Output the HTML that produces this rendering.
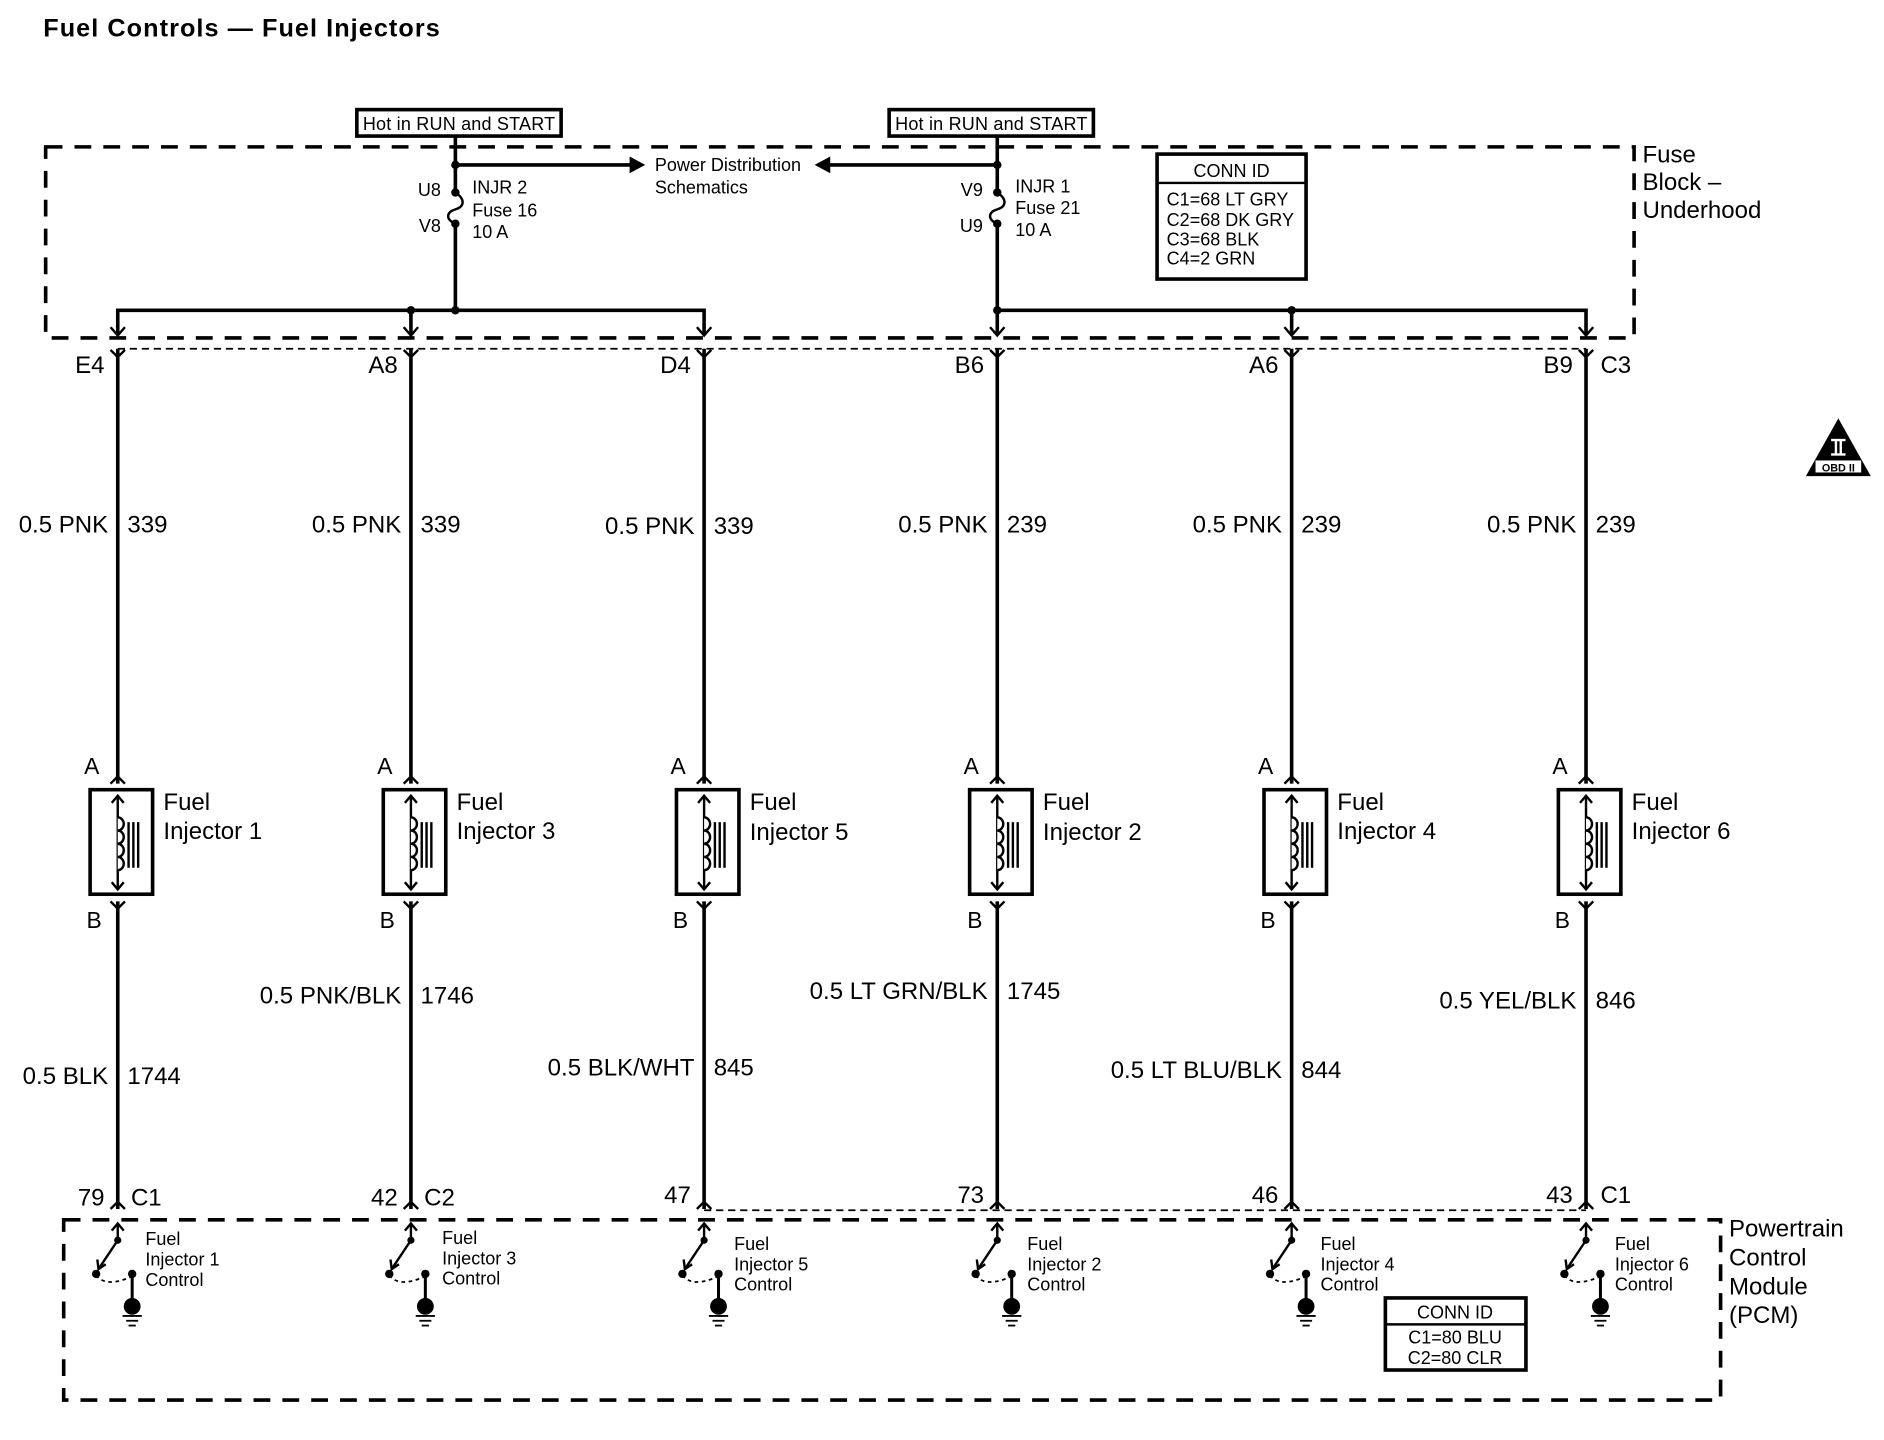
<!DOCTYPE html>
<html><head><meta charset="utf-8"><style>
html,body{margin:0;padding:0;background:#fff;}
svg{display:block;}
text{font-family:"Liberation Sans",sans-serif;fill:#000;}
.w{font-size:20px;}
.s{font-size:15px;}
.p{font-size:19px;}
</style></head><body>
<svg width="1884" height="1440" viewBox="0 0 1568 1198" xmlns="http://www.w3.org/2000/svg">
<defs>
<g id="inj" fill="none" stroke="#000">
  <rect x="-23" y="657" width="52" height="87" stroke-width="3"/>
  <line x1="0" y1="662" x2="0" y2="740" stroke-width="2"/>
  <path d="M-5 668 L0 662 L5 668 M-5 734 L0 740 L5 734" stroke-width="2"/>
  <path d="M0 680 a5 5.5 0 0 1 0 11 a5 5.5 0 0 1 0 11 a5 5.5 0 0 1 0 11 a5 5.5 0 0 1 0 11" stroke-width="2" fill="#fff"/>
  <line x1="9" y1="684" x2="9" y2="722" stroke-width="2"/>
  <line x1="13" y1="684" x2="13" y2="722" stroke-width="2"/>
  <line x1="17" y1="684" x2="17" y2="722" stroke-width="2"/>
  <line x1="0" y1="290" x2="0" y2="652" stroke-width="3"/>
  <path d="M-6 652 L0 646 L6 652" stroke-width="2"/>
  <path d="M-6 750 L0 756 L6 750" stroke-width="2"/>
  <line x1="0" y1="750" x2="0" y2="1006" stroke-width="3"/>
  <path d="M-6 291 L0 297 L6 291" stroke-width="2"/>
  <path d="M-6 1006 L0 1000 L6 1006" stroke-width="2"/>
  <line x1="0" y1="1018" x2="0" y2="1032" stroke-width="2"/>
  <path d="M-5 1024 L0 1018 L5 1024" stroke-width="2"/>
  <line x1="0" y1="1032" x2="-16" y2="1056" stroke-width="2"/>
  <path d="M-17 1048 L-16 1056 L-10 1052" stroke-width="2"/>
  <path d="M-18 1061 Q-10 1072 12 1062" stroke-width="1.5" stroke-dasharray="3,3"/>
  <line x1="12" y1="1060" x2="12" y2="1084" stroke-width="2.5"/>
  <line x1="4" y1="1095" x2="20" y2="1095" stroke-width="1.5"/>
  <line x1="7" y1="1099" x2="17" y2="1099" stroke-width="1.5"/>
  <line x1="9" y1="1103" x2="15" y2="1103" stroke-width="1.5"/>
</g>
<g id="dots">
  <circle cx="0" cy="1032" r="3"/><circle cx="-18" cy="1060" r="3.5"/><circle cx="12" cy="1060" r="3.5"/>
  <circle cx="12" cy="1087" r="7"/>
</g>
</defs>

<text x="36" y="30" style="font-size:21px;font-weight:bold" textLength="330">Fuel Controls — Fuel Injectors</text>

<!-- fuse block -->
<rect x="38" y="122" width="1322" height="159" fill="none" stroke="#000" stroke-width="3" stroke-dasharray="14,10"/>
<line x1="98" y1="290" x2="1320" y2="290" stroke="#000" stroke-width="1.5" stroke-dasharray="6,4"/>
<text x="1367" y="135" class="w">Fuse</text>
<text x="1367" y="158" class="w">Block –</text>
<text x="1367" y="181" class="w">Underhood</text>

<!-- hot boxes -->
<rect x="297" y="91" width="170" height="22" fill="#fff" stroke="#000" stroke-width="3"/>
<text x="382" y="108" class="s" text-anchor="middle" textLength="160">Hot in RUN and START</text>
<rect x="740" y="91" width="170" height="22" fill="#fff" stroke="#000" stroke-width="3"/>
<text x="825" y="108" class="s" text-anchor="middle" textLength="160">Hot in RUN and START</text>

<g stroke="#000" stroke-width="3" fill="none">
  <path d="M379 113 V160 M379 186 V258"/>
  <path d="M379 160 C388 166 386 172 379 174 C372 176 370 182 379 186" stroke-width="2"/>
  <path d="M830 113 V160 M830 186 V258"/>
  <path d="M830 160 C839 166 837 172 830 174 C823 176 821 182 830 186" stroke-width="2"/>
  <path d="M379 137 H528 M830 137 H688"/>
  <path d="M98 278 V258 H586 V278"/>
  <path d="M342 258 V278"/>
  <path d="M830 258 H1320 V278 M1075 258 V278 M830 258 V278"/>
  <path d="M92 272 L98 279 L104 272 M336 272 L342 279 L348 272 M580 272 L586 279 L592 272 M824 272 L830 279 L836 272 M1069 272 L1075 279 L1081 272 M1314 272 L1320 279 L1326 272" stroke-width="2"/>
</g>
<path d="M537 137 L524 130 L524 144 Z M678 137 L691 130 L691 144 Z"/>
<g>
<circle cx="379" cy="137" r="3.5"/><circle cx="830" cy="137" r="3.5"/>
<circle cx="379" cy="160" r="3.5"/><circle cx="379" cy="186" r="3.5"/>
<circle cx="830" cy="160" r="3.5"/><circle cx="830" cy="186" r="3.5"/>
<circle cx="342" cy="258" r="3.5"/><circle cx="379" cy="258" r="3.5"/><circle cx="1075" cy="258" r="3.5"/><circle cx="830" cy="258" r="3.5"/>
</g>
<text x="545" y="142" class="s">Power Distribution</text>
<text x="545" y="161" class="s">Schematics</text>
<text x="367" y="163" class="s" text-anchor="end">U8</text>
<text x="367" y="193" class="s" text-anchor="end">V8</text>
<text x="393" y="161" class="s">INJR 2</text>
<text x="393" y="180" class="s">Fuse 16</text>
<text x="393" y="198" class="s">10 A</text>
<text x="818" y="163" class="s" text-anchor="end">V9</text>
<text x="818" y="193" class="s" text-anchor="end">U9</text>
<text x="845" y="160" class="s">INJR 1</text>
<text x="845" y="178" class="s">Fuse 21</text>
<text x="845" y="196" class="s">10 A</text>

<rect x="963" y="128" width="124" height="104" fill="none" stroke="#000" stroke-width="3"/>
<line x1="963" y1="152" x2="1087" y2="152" stroke="#000" stroke-width="2"/>
<text x="1025" y="147" class="s" text-anchor="middle">CONN ID</text>
<text x="971" y="171" class="s">C1=68 LT GRY</text>
<text x="971" y="188" class="s">C2=68 DK GRY</text>
<text x="971" y="204" class="s">C3=68 BLK</text>
<text x="971" y="220" class="s">C4=2 GRN</text>

<!-- OBD -->
<path d="M1530 348 L1557 396 L1503 396 Z"/>
<rect x="1524" y="365" width="12" height="2" fill="#fff"/>
<rect x="1524" y="377" width="12" height="2" fill="#fff"/>
<rect x="1527" y="366" width="2" height="12" fill="#fff"/>
<rect x="1531" y="366" width="2" height="12" fill="#fff"/>
<rect x="1511" y="383" width="38" height="10" fill="#fff"/>
<text x="1530" y="392" text-anchor="middle" style="font-size:9px;font-weight:bold">OBD II</text>

<!-- PCM -->
<rect x="53" y="1015" width="1379" height="150" fill="none" stroke="#000" stroke-width="3" stroke-dasharray="14,10"/>
<line x1="586" y1="1007" x2="1320" y2="1007" stroke="#000" stroke-width="1.5" stroke-dasharray="6,4"/>
<text x="1439" y="1029" class="w">Powertrain</text>
<text x="1439" y="1053" class="w">Control</text>
<text x="1439" y="1077" class="w">Module</text>
<text x="1439" y="1101" class="w">(PCM)</text>
<rect x="1153" y="1080" width="117" height="60" fill="#fff" stroke="#000" stroke-width="3"/>
<line x1="1153" y1="1102" x2="1270" y2="1102" stroke="#000" stroke-width="2"/>
<text x="1211" y="1097" class="s" text-anchor="middle">CONN ID</text>
<text x="1211" y="1118" class="s" text-anchor="middle">C1=80 BLU</text>
<text x="1211" y="1135" class="s" text-anchor="middle">C2=80 CLR</text>

<!-- columns -->
<use href="#inj" x="98"/><use href="#dots" x="98"/>
<use href="#inj" x="342"/><use href="#dots" x="342"/>
<use href="#inj" x="586"/><use href="#dots" x="586"/>
<use href="#inj" x="830"/><use href="#dots" x="830"/>
<use href="#inj" x="1075"/><use href="#dots" x="1075"/>
<use href="#inj" x="1320"/><use href="#dots" x="1320"/>

<g class="w">
<text x="87" y="310" text-anchor="end">E4</text>
<text x="331" y="310" text-anchor="end">A8</text>
<text x="575" y="310" text-anchor="end">D4</text>
<text x="819" y="310" text-anchor="end">B6</text>
<text x="1064" y="310" text-anchor="end">A6</text>
<text x="1309" y="310" text-anchor="end">B9</text>
<text x="1332" y="310">C3</text>

<text x="90" y="443" text-anchor="end">0.5 PNK</text><text x="106" y="443">339</text>
<text x="334" y="443" text-anchor="end">0.5 PNK</text><text x="350" y="443">339</text>
<text x="578" y="444" text-anchor="end">0.5 PNK</text><text x="594" y="444">339</text>
<text x="822" y="443" text-anchor="end">0.5 PNK</text><text x="838" y="443">239</text>
<text x="1067" y="443" text-anchor="end">0.5 PNK</text><text x="1083" y="443">239</text>
<text x="1312" y="443" text-anchor="end">0.5 PNK</text><text x="1328" y="443">239</text>

<text x="90" y="902" text-anchor="end">0.5 BLK</text><text x="106" y="902">1744</text>
<text x="334" y="835" text-anchor="end">0.5 PNK/BLK</text><text x="350" y="835">1746</text>
<text x="578" y="895" text-anchor="end">0.5 BLK/WHT</text><text x="594" y="895">845</text>
<text x="822" y="831" text-anchor="end">0.5 LT GRN/BLK</text><text x="838" y="831">1745</text>
<text x="1067" y="897" text-anchor="end">0.5 LT BLU/BLK</text><text x="1083" y="897">844</text>
<text x="1312" y="839" text-anchor="end">0.5 YEL/BLK</text><text x="1328" y="839">846</text>

<text x="87" y="1003" text-anchor="end">79</text><text x="109" y="1003">C1</text>
<text x="331" y="1003" text-anchor="end">42</text><text x="353" y="1003">C2</text>
<text x="575" y="1001" text-anchor="end">47</text>
<text x="819" y="1001" text-anchor="end">73</text>
<text x="1064" y="1001" text-anchor="end">46</text>
<text x="1309" y="1001" text-anchor="end">43</text><text x="1332" y="1001">C1</text>

<text x="136" y="674">Fuel</text><text x="136" y="698">Injector 1</text>
<text x="380" y="674">Fuel</text><text x="380" y="698">Injector 3</text>
<text x="624" y="674">Fuel</text><text x="624" y="699">Injector 5</text>
<text x="868" y="674">Fuel</text><text x="868" y="699">Injector 2</text>
<text x="1113" y="674">Fuel</text><text x="1113" y="698">Injector 4</text>
<text x="1358" y="674">Fuel</text><text x="1358" y="698">Injector 6</text>
</g>
<g class="p">
<text x="70" y="644">A</text><text x="72" y="772">B</text>
<text x="314" y="644">A</text><text x="316" y="772">B</text>
<text x="558" y="644">A</text><text x="560" y="772">B</text>
<text x="802" y="644">A</text><text x="805" y="772">B</text>
<text x="1047" y="644">A</text><text x="1049" y="772">B</text>
<text x="1292" y="644">A</text><text x="1294" y="772">B</text>
</g>
<g class="s">
<text x="121" y="1036">Fuel</text><text x="121" y="1053">Injector 1</text><text x="121" y="1070">Control</text>
<text x="368" y="1035">Fuel</text><text x="368" y="1052">Injector 3</text><text x="368" y="1069">Control</text>
<text x="611" y="1040">Fuel</text><text x="611" y="1057">Injector 5</text><text x="611" y="1074">Control</text>
<text x="855" y="1040">Fuel</text><text x="855" y="1057">Injector 2</text><text x="855" y="1074">Control</text>
<text x="1099" y="1040">Fuel</text><text x="1099" y="1057">Injector 4</text><text x="1099" y="1074">Control</text>
<text x="1344" y="1040">Fuel</text><text x="1344" y="1057">Injector 6</text><text x="1344" y="1074">Control</text>
</g>
</svg>
</body></html>
